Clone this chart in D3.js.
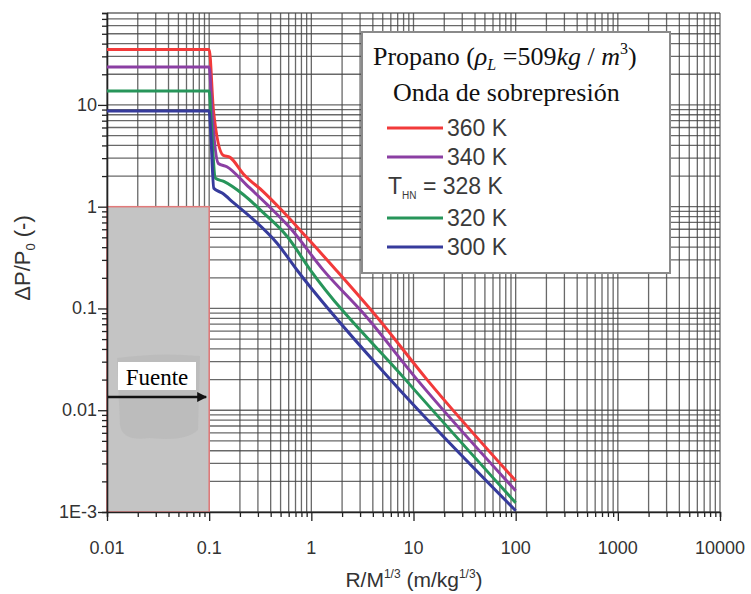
<!DOCTYPE html>
<html><head><meta charset="utf-8">
<script src="https://cdn.jsdelivr.net/npm/d3@7"></script>
<style>body{margin:0;background:#fff}svg{display:block}</style>
</head><body>
<svg id="c" width="751" height="594"></svg>
<script>
// ---- data ----
const seriesNames = ["360 K", "340 K", "320 K", "300 K"];
const seriesColors = ["#f23a3a", "#8b3fa3", "#27955a", "#363b9c"];
const x360 = [0.01, 0.1, 0.11, 0.137, 0.16, 0.216, 0.34, 0.5, 0.9, 1.77, 4.36, 13.5, 100];
const y360 = [35, 35, 8.9, 3.2, 3.05, 2.1, 1.4, 0.95, 0.5, 0.235, 0.083, 0.0201, 0.00203];
const x340 = [0.01, 0.1, 0.107, 0.123, 0.149, 0.233, 0.366, 0.618, 1.31, 3.23, 10.8, 100];
const y340 = [23.6, 23.6, 8.0, 2.66, 2.47, 1.63, 1.06, 0.62, 0.238, 0.0895, 0.0201, 0.00162];
const x320 = [0.01, 0.1, 0.104, 0.115, 0.139, 0.217, 0.34, 0.58, 0.975, 8.3, 100];
const y320 = [13.7, 13.7, 7.5, 1.91, 1.77, 1.31, 0.87, 0.51, 0.24, 0.0201, 0.00123];
const x300 = [0.01, 0.1, 0.103, 0.111, 0.134, 0.174, 0.27, 0.46, 0.72, 5.9, 100];
const y300 = [8.7, 8.7, 6.0, 1.52, 1.36, 1.09, 0.75, 0.44, 0.24, 0.0201, 0.00103];
const xTickValues = [0.01, 0.1, 1, 10, 100, 1000, 10000];
const xTickLabels = ["0.01", "0.1", "1", "10", "100", "1000", "10000"];
const yTickValues = [0.001, 0.01, 0.1, 1, 10];
const yTickLabels = ["1E-3", "0.01", "0.1", "1", "10"];
const sourceRegion = {x0: 0.01, x1: 0.1, y0: 0.001, y1: 1};

const svg = d3.select("#c");
const L = 107, R = 720, T = 13, B = 512;
const x = d3.scaleLog().domain([0.01, 10000]).range([L, R]);
const y = d3.scaleLog().domain([0.001, 80]).range([B, T]);

function minors(lo, hi) {
  const out = [];
  for (let e = Math.floor(Math.log10(lo)); e <= Math.ceil(Math.log10(hi)); e++)
    for (let d = 1; d <= 9; d++) { const v = d * Math.pow(10, e); if (v >= lo * 0.999 && v <= hi * 1.001) out.push(v); }
  return out;
}
const xm = minors(0.01, 10000), ym = minors(0.001, 80);

// grid
const g = svg.append("g");
g.selectAll("line.v").data(xm).join("line")
  .attr("x1", d => x(d)).attr("x2", d => x(d)).attr("y1", T).attr("y2", B)
  .attr("stroke", "#444").attr("stroke-width", 1.3).attr("opacity", 0.8);
g.selectAll("line.h").data(ym).join("line")
  .attr("y1", d => y(d)).attr("y2", d => y(d)).attr("x1", L).attr("x2", R)
  .attr("stroke", "#444").attr("stroke-width", 1.3).attr("opacity", 0.8);

// source region box
svg.append("rect")
  .attr("x", x(sourceRegion.x0)).attr("y", y(sourceRegion.y1))
  .attr("width", x(sourceRegion.x1) - x(sourceRegion.x0))
  .attr("height", y(sourceRegion.y0) - y(sourceRegion.y1))
  .attr("fill", "#c4c4c4").attr("stroke", "#e27a7a").attr("stroke-width", 1.5);
svg.append("path")
  .attr("d", `M117,358 Q160,352 200,356 L198,430 Q185,442 150,438 Q122,442 120,425 Z`)
  .attr("fill", "#b4b4b4").attr("opacity", 0.45);

// axes
const yAxis = d3.axisLeft(y).tickValues(ym).tickSize(5).tickFormat("");
const gy = svg.append("g").attr("transform", `translate(${L},0)`).call(yAxis);
const xAxis = d3.axisBottom(x).tickValues(xm).tickSize(5).tickFormat("");
const gx = svg.append("g").attr("transform", `translate(0,${B})`).call(xAxis);
[gy, gx].forEach(a => { a.selectAll("path").attr("stroke", "#222").attr("stroke-width", 1.6); a.selectAll("line").attr("stroke", "#222").attr("stroke-width", 1.3); });
gy.selectAll(".tick").filter(d => yTickValues.some(v => Math.abs(v - d) / v < 1e-6)).select("line").attr("x2", -9);
gx.selectAll(".tick").filter(d => xTickValues.some(v => Math.abs(v - d) / v < 1e-6)).select("line").attr("y2", 9);

const tf = "'Liberation Sans', Arial, sans-serif";
svg.selectAll("text.yl").data(yTickValues).join("text")
  .attr("x", 97).attr("y", d => y(d) + 6).attr("text-anchor", "end")
  .attr("font-family", tf).attr("font-size", 18).attr("fill", "#333")
  .text((d, i) => yTickLabels[i]);
svg.selectAll("text.xl").data(xTickValues).join("text")
  .attr("x", d => x(d)).attr("y", 554).attr("text-anchor", "middle")
  .attr("font-family", tf).attr("font-size", 18).attr("fill", "#333")
  .text((d, i) => xTickLabels[i]);

// axis titles
const xt = svg.append("text").attr("x", 414).attr("y", 587).attr("text-anchor", "middle")
  .attr("font-family", tf).attr("font-size", 21).attr("fill", "#333");
xt.append("tspan").text("R/M");
xt.append("tspan").attr("font-size", 12).attr("dy", -9).text("1/3");
xt.append("tspan").attr("dy", 9).text(" (m/kg");
xt.append("tspan").attr("font-size", 12).attr("dy", -9).text("1/3");
xt.append("tspan").attr("dy", 9).text(")");
const yt = svg.append("text").attr("transform", "translate(30,258) rotate(-90)").attr("text-anchor", "middle")
  .attr("font-family", tf).attr("font-size", 22).attr("fill", "#333");
yt.append("tspan").text("ΔP/P");
yt.append("tspan").attr("font-size", 13).attr("dy", 5).text("0");
yt.append("tspan").attr("dy", -5).text(" (-)");

// series
const allX = [x360, x340, x320, x300], allY = [y360, y340, y320, y300];
const line = d3.line().x(d => x(d[0])).y(d => y(d[1])).curve(d3.curveMonotoneX);
allX.forEach((xs, i) => {
  const pts = xs.map((v, j) => [v, allY[i][j]]);
  svg.append("path").attr("d", line(pts)).attr("fill", "none")
    .attr("stroke", seriesColors[i]).attr("stroke-width", 3).attr("stroke-linejoin", "round");
});

// Fuente label + arrow
svg.append("defs").append("marker").attr("id", "ah").attr("viewBox", "0 0 10 10")
  .attr("refX", 9).attr("refY", 5).attr("markerWidth", 4).attr("markerHeight", 4).attr("orient", "auto")
  .append("path").attr("d", "M0,0 L10,5 L0,10 Z").attr("fill", "#111");
svg.append("rect").attr("x", 118).attr("y", 362).attr("width", 78).attr("height", 28).attr("fill", "#fff");
svg.append("text").attr("x", 157).attr("y", 385).attr("text-anchor", "middle")
  .attr("font-family", "'Liberation Serif','Times New Roman',serif").attr("font-size", 23).attr("fill", "#000").text("Fuente");
svg.append("line").attr("x1", x(0.01) + 1).attr("x2", x(0.1) - 3).attr("y1", 397).attr("y2", 397)
  .attr("stroke", "#111").attr("stroke-width", 2.5).attr("marker-end", "url(#ah)");

// legend
const lg = svg.append("g");
lg.append("rect").attr("x", 362).attr("y", 32).attr("width", 308).attr("height", 241)
  .attr("fill", "#fff").attr("stroke", "#8a8a8a").attr("stroke-width", 2);
const sf = "'Liberation Serif','Times New Roman',serif";
const t1 = lg.append("text").attr("x", 373).attr("y", 65).attr("font-family", sf).attr("font-size", 26).attr("fill", "#111");
t1.append("tspan").text("Propano (");
t1.append("tspan").attr("font-style", "italic").text("ρ");
t1.append("tspan").attr("font-style", "italic").attr("font-size", 16).attr("dy", 5).text("L");
t1.append("tspan").attr("dy", -5).text(" =509");
t1.append("tspan").attr("font-style", "italic").text("kg");
t1.append("tspan").text(" / ");
t1.append("tspan").attr("font-style", "italic").text("m");
t1.append("tspan").attr("font-size", 16).attr("dy", -11).text("3");
t1.append("tspan").attr("dy", 11).text(")");
lg.append("text").attr("x", 393).attr("y", 101).attr("font-family", sf).attr("font-size", 26).attr("fill", "#111")
  .text("Onda de sobrepresión");
const entryY = [128, 157, 218, 247];
seriesNames.forEach((n, i) => {
  lg.append("line").attr("x1", 387).attr("x2", 443).attr("y1", entryY[i]).attr("y2", entryY[i])
    .attr("stroke", seriesColors[i]).attr("stroke-width", 3);
  lg.append("text").attr("x", 447).attr("y", entryY[i] + 8).attr("font-family", tf).attr("font-size", 23)
    .attr("fill", "#3a3a3a").text(n);
});
const th = lg.append("text").attr("x", 388).attr("y", 194).attr("font-family", tf).attr("font-size", 23).attr("fill", "#3a3a3a");
th.append("tspan").text("T");
th.append("tspan").attr("font-size", 10).attr("dy", 5).text("HN");
th.append("tspan").attr("dy", -5).text(" = 328 K");
</script>
</body></html>
